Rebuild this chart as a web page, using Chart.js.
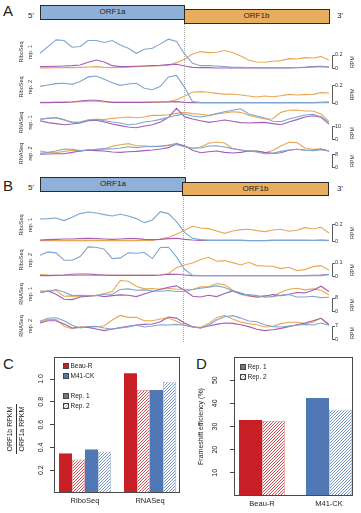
<!DOCTYPE html>
<html>
<head>
<meta charset="utf-8">
<script src="https://cdn.jsdelivr.net/npm/chart.js@4.4.0/dist/chart.umd.min.js"></script>
<style>
html, body { margin: 0; padding: 0; background: #fff; }
#fig { position: relative; width: 361px; height: 513px; overflow: hidden; font-family: "Liberation Sans", Arial, sans-serif; color: #222; }
#fig canvas { position: absolute; left: 0; }
.abs { position: absolute; white-space: nowrap; }
.letter { font-size: 15px; line-height: 15px; }
.end { font-size: 8px; line-height: 8px; }
.orf { position: absolute; box-sizing: border-box; border: 1px solid #2a2a2a; font-size: 8px; line-height: 12px; text-align: center; color: #222; }
.orf1a { background: #8fb1d7; }
.orf1b { background: #e9ad5e; }
.fs { position: absolute; width: 0; border-left: 1px dotted #aaa; }
.leg { position: absolute; font-size: 6.5px; line-height: 8px; height: 8px; white-space: nowrap; }
.sw { display: inline-block; width: 4px; height: 4px; border: 1px solid #444; vertical-align: -0.5px; margin-right: 1.5px; }
</style>
</head>
<body>
<div id="fig">
  <div class="abs letter" style="left:3px;top:3px">A</div>
  <div class="abs letter" style="left:3px;top:178px">B</div>
  <div class="abs letter" style="left:3px;top:356px">C</div>
  <div class="abs letter" style="left:196px;top:356px">D</div>

  <!-- genome maps -->
  <div class="fs" style="left:184px;top:19px;height:150px"></div>
  <div class="fs" style="left:183px;top:192px;height:150px"></div>
  <div class="abs end" style="left:28px;top:12px">5'</div>
  <div class="abs end" style="left:337px;top:12px">3'</div>
  <div class="orf orf1a" style="left:40px;top:5px;width:145px;height:14.5px">ORF1a</div>
  <div class="orf orf1b" style="left:183.5px;top:9px;width:146px;height:14.5px">ORF1b</div>
  <div class="abs end" style="left:28px;top:184px">5'</div>
  <div class="abs end" style="left:337px;top:185px">3'</div>
  <div class="orf orf1a" style="left:40px;top:177px;width:146px;height:14.5px">ORF1a</div>
  <div class="orf orf1b" style="left:182px;top:181.5px;width:147px;height:14.5px">ORF1b</div>

  <canvas id="tA1"></canvas><canvas id="tA2"></canvas><canvas id="tA3"></canvas><canvas id="tA4"></canvas>
  <canvas id="tB1"></canvas><canvas id="tB2"></canvas><canvas id="tB3"></canvas><canvas id="tB4"></canvas>

  <canvas id="cChart" style="left:0;top:340px"></canvas>
  <canvas id="dChart" style="left:190px;top:340px"></canvas>

  <!-- panel C y title, written as a fraction -->
  <div class="abs" style="left:-9px;top:418px;width:50px;height:22px;transform:rotate(-90deg);font-size:7px;line-height:10.5px;text-align:center">
    <div style="border-bottom:1px solid #333">ORF1b RPKM</div>
    <div>ORF1a RPKM</div>
  </div>

  <!-- legends -->
  <div class="leg" style="left:63px;top:362px"><span class="sw" style="background:#c81f26"></span>Beau-R</div>
  <div class="leg" style="left:63px;top:372px"><span class="sw" style="background:#4f78b5"></span>M41-CK</div>
  <div class="leg" style="left:63px;top:392px"><span class="sw" style="background:#777"></span>Rep. 1</div>
  <div class="leg" style="left:63px;top:402px"><span class="sw" style="background:repeating-linear-gradient(135deg,#999 0 1px,#fff 1px 2.2px)"></span>Rep. 2</div>
  <div class="leg" style="left:240px;top:363px"><span class="sw" style="background:#777"></span>Rep. 1</div>
  <div class="leg" style="left:240px;top:373px"><span class="sw" style="background:repeating-linear-gradient(135deg,#999 0 1px,#fff 1px 2.2px)"></span>Rep. 2</div>
</div>

<script>
// genome bins along ORF1a/ORF1b (x axis of every coverage track)
const bins = [1, 2, 3, 4, 5, 6, 7, 8, 9, 10, 11, 12, 13, 14, 15, 16, 17, 18, 19, 20, 21, 22, 23, 24, 25, 26, 27, 28, 29, 30, 31, 32, 33, 34, 35, 36, 37];

// Panel A, RiboSeq rep. 1 (RPM)
const aRibo1Blue = [0.22, 0.32, 0.42, 0.41, 0.31, 0.32, 0.41, 0.41, 0.38, 0.41, 0.345, 0.295, 0.22, 0.28, 0.295, 0.36, 0.43, 0.395, 0.21, 0.07, 0.035, 0.035, 0.03, 0.02, 0.01, 0.01, 0.008, 0.006, 0.005, 0.005, 0.005, 0.006, 0.008, 0.012, 0.016, 0.02, 0.012];
const aRibo1Orange = [0, 0, 0.005, 0.005, 0.005, 0.01, 0.015, 0.02, 0.01, 0.005, 0.01, 0.015, 0.02, 0.025, 0.03, 0.035, 0.04, 0.08, 0.13, 0.21, 0.245, 0.23, 0.235, 0.26, 0.23, 0.18, 0.12, 0.09, 0.085, 0.1, 0.11, 0.14, 0.135, 0.155, 0.15, 0.17, 0.12];
const aRibo1Purple = [0.02, 0.02, 0.025, 0.03, 0.035, 0.045, 0.085, 0.12, 0.09, 0.035, 0.02, 0.02, 0.025, 0.03, 0.035, 0.04, 0.05, 0.055, 0.03, 0.01, 0.005, 0.005, 0, 0, 0, 0, 0, 0, 0, 0, 0, 0, 0.005, 0.01, 0.02, 0.025, 0.015];
// Panel A, RiboSeq rep. 2
const aRibo2Blue = [0.185, 0.2, 0.215, 0.22, 0.207, 0.24, 0.29, 0.3, 0.263, 0.226, 0.196, 0.211, 0.219, 0.163, 0.148, 0.185, 0.29, 0.307, 0.174, 0.015, 0.004, 0.004, 0.004, 0.004, 0.004, 0.004, 0.004, 0.004, 0.004, 0.004, 0.004, 0.004, 0.004, 0.004, 0.004, 0.004, 0.004];
const aRibo2Orange = [0.007, 0.007, 0.007, 0.011, 0.011, 0.015, 0.019, 0.019, 0.011, 0.007, 0.007, 0.007, 0.007, 0.007, 0.007, 0.011, 0.015, 0.037, 0.074, 0.119, 0.126, 0.119, 0.107, 0.096, 0.1, 0.089, 0.078, 0.067, 0.078, 0.07, 0.081, 0.096, 0.089, 0.093, 0.096, 0.115, 0.111];
const aRibo2Purple = [0.004, 0.004, 0.007, 0.007, 0.011, 0.022, 0.03, 0.03, 0.019, 0.007, 0.007, 0.007, 0.007, 0.007, 0.011, 0.011, 0.011, 0.015, 0.007, 0.004, 0.004, 0.004, 0.004, 0.004, 0.004, 0.004, 0.004, 0.004, 0.004, 0.004, 0.004, 0.004, 0.004, 0.004, 0.004, 0.007, 0.011];
// Panel A, RNASeq rep. 1
const aRna1Blue = [15.4, 15.9, 16.4, 14.9, 12.6, 12.6, 14.6, 15.1, 14.1, 13.1, 12.3, 11.0, 11.5, 13.1, 13.8, 15.1, 16.7, 18.2, 19.2, 17.7, 16.9, 17.9, 19.5, 21.0, 22.1, 23.3, 19.2, 17.7, 16.2, 13.6, 13.3, 15.4, 16.9, 18.5, 19.0, 17.2, 12.8];
const aRna1Orange = [14.6, 16.2, 16.2, 14.6, 13.1, 13.3, 14.6, 15.1, 14.9, 15.9, 16.4, 16.9, 16.4, 16.9, 18.2, 18.2, 18.7, 19.7, 20.5, 19.5, 19.0, 18.2, 19.2, 20.0, 21.0, 20.5, 18.2, 16.7, 15.4, 15.6, 20.5, 22.1, 22.3, 21.5, 21.5, 19.2, 13.6];
const aRna1Purple = [14.1, 12.6, 11.8, 11.0, 11.5, 12.3, 14.1, 14.4, 13.1, 11.5, 10.3, 9.2, 8.7, 10.0, 11.0, 13.1, 16.7, 23.6, 17.2, 15.4, 14.1, 12.8, 13.6, 14.6, 13.6, 12.6, 12.3, 12.6, 12.8, 11.8, 11.0, 13.1, 14.9, 16.9, 17.9, 16.7, 11.5];
// Panel A, RNASeq rep. 2
const aRna2Blue = [8.4, 9.0, 9.8, 11.1, 10.9, 10.1, 10.5, 10.9, 11.3, 11.1, 11.7, 12.5, 11.9, 12.5, 12.7, 12.7, 13.3, 13.9, 12.5, 11.5, 11.7, 12.9, 13.1, 12.3, 11.3, 10.5, 9.8, 9.2, 8.2, 8.4, 9.6, 10.5, 10.9, 10.3, 10.1, 10.7, 9.8];
const aRna2Orange = [9.8, 9.0, 8.8, 9.6, 10.3, 9.8, 10.7, 10.7, 11.1, 12.7, 13.7, 14.4, 13.1, 13.1, 12.5, 12.9, 13.5, 14.6, 12.7, 11.5, 12.3, 14.6, 15.4, 14.8, 11.3, 10.5, 9.8, 9.6, 8.8, 10.1, 12.9, 15.2, 15.0, 11.7, 10.9, 11.1, 9.8];
const aRna2Purple = [7.8, 8.0, 8.2, 8.2, 9.0, 9.8, 10.3, 10.1, 9.8, 9.2, 9.0, 9.4, 9.6, 10.1, 10.5, 11.1, 11.9, 14.2, 13.1, 10.3, 8.8, 9.4, 9.8, 9.0, 8.6, 9.0, 9.8, 9.8, 9.0, 8.4, 8.8, 10.3, 10.9, 10.5, 10.3, 11.1, 9.8];

// Panel B, RiboSeq rep. 1
const bRibo1Blue = [0.264, 0.268, 0.276, 0.244, 0.284, 0.328, 0.348, 0.336, 0.316, 0.3, 0.32, 0.3, 0.268, 0.22, 0.252, 0.352, 0.328, 0.232, 0.104, 0.032, 0.016, 0.008, 0.008, 0.008, 0.008, 0.008, 0.006, 0.006, 0.006, 0.008, 0.008, 0.008, 0.008, 0.008, 0.006, 0.006, 0.004];
const bRibo1Orange = [0.004, 0.004, 0.004, 0.004, 0.004, 0.004, 0.004, 0.004, 0.004, 0.004, 0.004, 0.004, 0.004, 0.008, 0.008, 0.024, 0.044, 0.08, 0.128, 0.176, 0.156, 0.148, 0.12, 0.092, 0.12, 0.136, 0.14, 0.124, 0.112, 0.132, 0.14, 0.116, 0.128, 0.16, 0.144, 0.164, 0.096];
const bRibo1Purple = [0.012, 0.016, 0.02, 0.024, 0.024, 0.028, 0.032, 0.028, 0.024, 0.02, 0.024, 0.028, 0.028, 0.02, 0.016, 0.02, 0.028, 0.032, 0.02, 0.012, 0.008, 0.008, 0.008, 0.008, 0.008, 0.008, 0.004, 0.004, 0.004, 0.008, 0.008, 0.008, 0.008, 0.008, 0.008, 0.012, 0.008];
// Panel B, RiboSeq rep. 2
const bRibo2Blue = [0.155, 0.18, 0.1725, 0.1175, 0.1175, 0.145, 0.2175, 0.215, 0.2, 0.13, 0.135, 0.1725, 0.17, 0.175, 0.13, 0.2125, 0.215, 0.1425, 0.05, 0.005, 0.0025, 0.0025, 0.0025, 0.0025, 0.0025, 0.0025, 0.0025, 0.0025, 0.0025, 0.0025, 0.0025, 0.0025, 0.0025, 0.0025, 0.0025, 0.0025, 0.01];
const bRibo2Orange = [0.0125, 0.0075, 0.005, 0.005, 0.005, 0.005, 0.005, 0.005, 0.005, 0.005, 0.005, 0.005, 0.005, 0.005, 0.005, 0.0075, 0.0175, 0.0625, 0.0825, 0.0975, 0.1225, 0.14, 0.11, 0.115, 0.1, 0.0825, 0.1025, 0.0775, 0.075, 0.0725, 0.055, 0.065, 0.04, 0.0475, 0.07, 0.0775, 0.0425];
const bRibo2Purple = [0.0025, 0.0025, 0.005, 0.0075, 0.0125, 0.015, 0.015, 0.01, 0.0075, 0.005, 0.005, 0.005, 0.005, 0.005, 0.005, 0.0075, 0.0125, 0.0125, 0.0075, 0.0025, 0.0025, 0.0025, 0.0025, 0.0025, 0.0025, 0.0025, 0.0025, 0.0025, 0.0025, 0.0025, 0.0025, 0.0025, 0.0025, 0.0025, 0.005, 0.0075, 0.0125];
// Panel B, RNASeq rep. 1
const bRna1Blue = [11, 11.8, 12.8, 11.4, 9.2, 9.4, 9.2, 9.2, 10, 10, 12.8, 13.2, 12.4, 12.6, 12, 11.8, 12.2, 11.6, 11.6, 12.8, 13.6, 14.2, 15, 14, 12, 10, 9.8, 9.2, 8.2, 8.6, 9.4, 9.8, 8.4, 8.4, 8.8, 8, 8.2];
const bRna1Orange = [12, 11.6, 12.2, 8.8, 9, 8.8, 8.8, 9.2, 10.4, 11.6, 18.2, 17.8, 14.8, 13.2, 13.4, 13, 13.6, 13, 13, 12.8, 14.4, 14.4, 16.4, 15.6, 12.4, 9.8, 8.8, 8.4, 9.4, 8.6, 11.2, 13, 13.6, 12.6, 13.2, 12.4, 9.6];
const bRna1Purple = [11, 12, 10, 7, 6.8, 8.4, 8.8, 9.4, 8.6, 9.2, 9.6, 9.4, 8.6, 10.2, 11.6, 13, 14.2, 15, 12.4, 8.8, 8.4, 9.4, 8.6, 10.4, 12, 10.8, 9.2, 8.2, 8.8, 9.8, 9.2, 10, 11, 10.8, 12.4, 14.8, 11.6];
// Panel B, RNASeq rep. 2
const bRna2Blue = [9.3, 10.9, 11.2, 9.6, 7.2, 5.8, 6.5, 6.7, 5.8, 5.1, 5.8, 6.3, 7.2, 6.3, 6.8, 7.5, 7.4, 7.7, 7.2, 6.3, 5.8, 7.2, 10.0, 11.7, 12.3, 11.0, 9.5, 9.1, 7.5, 6.5, 6.3, 6.8, 7.2, 7.7, 7.4, 8.4, 7.2];
const bRna2Orange = [8.9, 10.3, 10.3, 6.7, 5.4, 6.3, 6.5, 6.3, 7.0, 10.0, 12.4, 11.4, 11.4, 9.6, 9.6, 10.5, 11.2, 9.3, 7.4, 6.3, 6.1, 8.1, 11.2, 12.4, 10.5, 8.9, 8.1, 7.5, 6.3, 6.7, 8.1, 8.8, 8.8, 8.1, 8.8, 11.0, 7.5];
const bRna2Purple = [8.4, 9.6, 9.6, 7.9, 5.8, 6.1, 6.1, 5.3, 4.4, 5.3, 6.0, 6.7, 7.4, 7.7, 7.9, 9.1, 11.6, 11.0, 8.4, 6.5, 5.8, 6.8, 7.7, 8.4, 8.2, 7.5, 6.5, 5.1, 4.4, 4.9, 5.6, 6.5, 7.5, 8.4, 9.6, 10.9, 7.5];

// Panel C: ORF1b / ORF1a RPKM ratio
const cGroups = ['RiboSeq', 'RNASeq'];
const cBeauRep1 = [0.347, 1.05];
const cBeauRep2 = [0.294, 0.903];
const cM41Rep1 = [0.382, 0.903];
const cM41Rep2 = [0.364, 0.976];
const cTicks = [0.2, 0.4, 0.6, 0.8, 1.0];

// Panel D: frameshift efficiency (%)
const dGroups = ['Beau-R', 'M41-CK'];
const dRep1 = [32.8, 42.3];
const dRep2 = [32.4, 37.2];
const dTicks = [10, 20, 30, 40, 50];

Chart.defaults.font.family = '"Liberation Sans", Arial, Helvetica, sans-serif';
Chart.defaults.color = '#222';
Chart.defaults.animation = false;

const blue = '#7fa6cf', orange = '#e8a851', purple = '#a55db8';
const red = '#c81f26', darkBlue = '#4f78b5';

// "[ 0.2 / 0" scale bar + RPM at the right of each track
const rangeBar = {
    id: 'rangeBar',
    afterDraw(chart, args, opts) {
        const {ctx, chartArea} = chart;
        const y = chart.scales.y;
        const x = Math.round(chartArea.right) + 3.5;
        const y0 = Math.round(y.getPixelForValue(0)) + 0.5;
        const y1 = Math.round(y.getPixelForValue(opts.value)) + 0.5;
        ctx.save();
        ctx.strokeStyle = '#333';
        ctx.lineWidth = 0.8;
        ctx.beginPath();
        ctx.moveTo(x + 2.5, y1);
        ctx.lineTo(x, y1);
        ctx.lineTo(x, y0);
        ctx.lineTo(x + 2.5, y0);
        ctx.stroke();
        ctx.translate(352, (y0 + y1) / 2);
        ctx.rotate(-Math.PI / 2);
        ctx.font = '5.5px "Liberation Sans", Arial, sans-serif';
        ctx.fillStyle = '#333';
        ctx.textAlign = 'center';
        ctx.textBaseline = 'middle';
        ctx.fillText('RPM', 0, 0);
        ctx.restore();
    }
};

// box around the bar plots
const frame = {
    id: 'frame',
    afterDraw(chart) {
        const {ctx, chartArea: a} = chart;
        ctx.save();
        ctx.strokeStyle = '#4a4a4a';
        ctx.lineWidth = 1;
        ctx.strokeRect(Math.round(a.left) + 0.5, Math.round(a.top) + 0.5, Math.round(a.width) - 1, Math.round(a.height) - 1);
        ctx.restore();
    }
};

function hatch(color) {
    const c = document.createElement('canvas');
    c.width = c.height = 3;
    const g = c.getContext('2d');
    g.fillStyle = '#fff';
    g.fillRect(0, 0, 3, 3);
    g.strokeStyle = color;
    g.lineWidth = 0.8;
    g.beginPath();
    g.moveTo(0, 3); g.lineTo(3, 0);
    g.moveTo(-1, 1); g.lineTo(1, -1);
    g.moveTo(2, 4); g.lineTo(4, 2);
    g.stroke();
    return g.createPattern(c, 'repeat');
}

function track(id, label, series, geo) {
    const pad = 5;
    const canvas = document.getElementById(id);
    const top = Math.round(geo.top), zero = Math.round(geo.zero);
    canvas.width = 361;
    canvas.height = zero - top + 2 * pad;
    canvas.style.top = (top - pad) + 'px';
    const pxPerUnit = (geo.zero - geo.barY) / geo.bar;
    const yMax = (zero - top) / pxPerUnit;
    const line = (data, color) => ({data, borderColor: color, borderWidth: 1.1, pointRadius: 0, tension: 0, fill: false, clip: false});

    new Chart(canvas, {
        type: 'line',
        data: {
            labels: bins,
            datasets: [line(series[0], blue), line(series[2], purple), line(series[1], orange)]
        },
        options: {
            responsive: false,
            events: [],
            layout: {padding: {top: pad, bottom: pad, left: 0, right: 0}},
            plugins: {legend: {display: false}, tooltip: {enabled: false}, rangeBar: {value: geo.bar}},
            scales: {
                x: {display: false, offset: false},
                y: {
                    min: 0, max: yMax,
                    ticks: {display: false},
                    grid: {display: false, drawTicks: false},
                    border: {display: false},
                    title: {display: true, text: label, color: '#333', font: {size: 5.5, lineHeight: 1.6}, padding: {top: 17, bottom: 0}},
                    afterFit: (s) => { s.width = 40; }
                },
                yr: {
                    position: 'right',
                    min: 0, max: yMax,
                    afterBuildTicks: (s) => { s.ticks = [{value: 0}, {value: geo.bar}]; },
                    // label offset comes from the (hidden) tick length, not from padding
                    ticks: {font: {size: 5.5}, color: '#333', padding: 0, callback: (v) => String(v)},
                    grid: {display: false, drawTicks: true, tickLength: 6},
                    border: {display: false},
                    afterFit: (s) => { s.width = 32; }
                }
            }
        },
        plugins: [rangeBar]
    });
}

track('tA1', ['RiboSeq', 'rep. 1'], [aRibo1Blue, aRibo1Orange, aRibo1Purple], {top: 36, zero: 67.7, bar: 0.2, barY: 54.3});
track('tA2', ['RiboSeq', 'rep. 2'], [aRibo2Blue, aRibo2Orange, aRibo2Purple], {top: 71, zero: 103, bar: 0.2, barY: 85});
track('tA3', ['RNASeq', 'rep. 1'], [aRna1Blue, aRna1Orange, aRna1Purple], {top: 106, zero: 139, bar: 10, barY: 126});
track('tA4', ['RNASeq', 'rep. 2'], [aRna2Blue, aRna2Orange, aRna2Purple], {top: 140, zero: 167, bar: 8, barY: 154});
track('tB1', ['RiboSeq', 'rep. 1'], [bRibo1Blue, bRibo1Orange, bRibo1Purple], {top: 209, zero: 241, bar: 0.2, barY: 224.3});
track('tB2', ['RiboSeq', 'rep. 2'], [bRibo2Blue, bRibo2Orange, bRibo2Purple], {top: 244, zero: 275.7, bar: 0.1, barY: 262.3});
track('tB3', ['RNASeq', 'rep. 1'], [bRna1Blue, bRna1Orange, bRna1Purple], {top: 277, zero: 310.7, bar: 8, barY: 297.3});
track('tB4', ['RNASeq', 'rep. 2'], [bRna2Blue, bRna2Orange, bRna2Purple], {top: 313, zero: 339, bar: 7, barY: 325.7});

// ---- Panel C ----
// canvas starts 17px above the box so the tick-label padding never pushes the plot down
const cCanvas = document.getElementById('cChart');
cCanvas.width = 190;
cCanvas.height = 173;
new Chart(cCanvas, {
    type: 'bar',
    data: {
        labels: [0, 1],
        datasets: [
            {label: 'Beau-R Rep. 1', data: cBeauRep1, backgroundColor: red, borderWidth: 0},
            {label: 'Beau-R Rep. 2', data: cBeauRep2, backgroundColor: hatch(red), borderColor: 'rgba(200,31,38,0.5)', borderWidth: 0.8},
            {label: 'M41-CK Rep. 1', data: cM41Rep1, backgroundColor: darkBlue, borderWidth: 0},
            {label: 'M41-CK Rep. 2', data: cM41Rep2, backgroundColor: hatch(darkBlue), borderColor: 'rgba(79,120,181,0.5)', borderWidth: 0.8}
        ]
    },
    options: {
        responsive: false,
        events: [],
        layout: {padding: {top: 17, right: 10, left: 0, bottom: 0}},
        datasets: {bar: {categoryPercentage: 0.8, barPercentage: 1}},
        plugins: {legend: {display: false}, tooltip: {enabled: false}},
        scales: {
            x: {
                type: 'linear', offset: false, min: -0.477, max: 1.4615,
                afterBuildTicks: (a) => { a.ticks = [{value: 0}, {value: 1}]; },
                ticks: {callback: (v, i) => cGroups[i], font: {size: 7.5}, padding: 3, maxRotation: 0, autoSkip: false},
                grid: {display: false, drawTicks: false},
                border: {display: false},
                afterFit: (a) => { a.height = 20; }
            },
            y: {
                min: 0, max: 1.193,
                afterBuildTicks: (a) => { a.ticks = cTicks.map(v => ({value: v})); },
                ticks: {callback: (v) => v.toFixed(1), font: {size: 7}, minRotation: 90, maxRotation: 90, crossAlign: 'center', padding: 4.5},
                grid: {drawOnChartArea: false, tickLength: 4, color: '#444'},
                border: {display: false},
                afterFit: (a) => { a.width = 54; }
            }
        }
    },
    plugins: [frame]
});

// ---- Panel D ----
const dCanvas = document.getElementById('dChart');
dCanvas.width = 171;
dCanvas.height = 173;
new Chart(dCanvas, {
    type: 'bar',
    data: {
        labels: [0, 1],
        datasets: [
            {label: 'Rep. 1', data: dRep1, backgroundColor: [red, darkBlue], borderWidth: 0},
            {label: 'Rep. 2', data: dRep2, backgroundColor: [hatch(red), hatch(darkBlue)], borderColor: ['rgba(200,31,38,0.5)', 'rgba(79,120,181,0.5)'], borderWidth: 0.8}
        ]
    },
    options: {
        responsive: false,
        events: [],
        layout: {padding: {top: 17, right: 8, left: 0, bottom: 0}},
        datasets: {bar: {categoryPercentage: 0.687, barPercentage: 1}},
        plugins: {legend: {display: false}, tooltip: {enabled: false}},
        scales: {
            x: {
                type: 'linear', offset: false, min: -0.418, max: 1.358,
                afterBuildTicks: (a) => { a.ticks = [{value: 0}, {value: 1}]; },
                ticks: {callback: (v, i) => dGroups[i], font: {size: 7.5}, padding: 3, maxRotation: 0, autoSkip: false},
                grid: {display: false, drawTicks: false},
                border: {display: false},
                afterFit: (a) => { a.height = 17; }
            },
            y: {
                min: 0, max: 60,
                afterBuildTicks: (a) => { a.ticks = dTicks.map(v => ({value: v})); },
                ticks: {font: {size: 7}, minRotation: 90, maxRotation: 90, crossAlign: 'center', padding: 11},
                grid: {drawOnChartArea: false, tickLength: 4, color: '#444'},
                border: {display: false},
                title: {display: true, text: 'Frameshift efficiency (%)', font: {size: 7}, padding: {top: 7, bottom: 0}},
                afterFit: (a) => { a.width = 44; }
            }
        }
    },
    plugins: [frame]
});
</script>
</body>
</html>
